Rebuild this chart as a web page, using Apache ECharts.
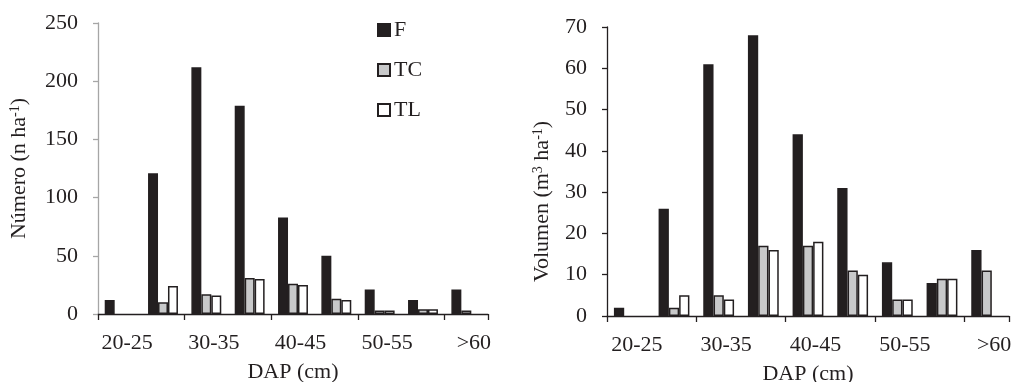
<!DOCTYPE html>
<html>
<head>
<meta charset="utf-8">
<script src="https://cdn.jsdelivr.net/npm/echarts@6/dist/echarts.min.js"></script>
<style>
  html, body { margin: 0; padding: 0; background: #fff; }
  #chart { width: 1012px; height: 382px; }
</style>
</head>
<body>
<div id="chart"></div>
<script>
const categories = ['20-25', '25-30', '30-35', '35-40', '40-45', '45-50', '50-55', '55-60', '>60'];

// Número (n ha-1)
const numF  = [12, 121, 212, 179, 83, 50, 21, 12, 21];
const numTC = [0, 10, 17, 31, 26, 13, 3, 4, 3];
const numTL = [0, 24, 16, 30, 25, 12, 3, 4, 0];

// Volumen (m3 ha-1)
const volF  = [2, 26, 61, 68, 44, 31, 13, 8, 16];
const volTC = [0, 2, 5, 17, 17, 11, 4, 9, 11];
const volTL = [0, 5, 4, 16, 18, 10, 4, 9, 0];

const font = 'Liberation Serif';
const dark = '#231f20';

let myChart = echarts.init(document.getElementById('chart'));

function xAxis(gridIndex) {
  return {
    type: 'category',
    gridIndex: gridIndex,
    data: categories,
    name: 'DAP (cm)',
    nameLocation: 'middle',
    nameGap: 47,
    nameTextStyle: { fontFamily: font, fontSize: 22, color: '#231f20' },
    axisLine: { lineStyle: { color: dark, width: 1.3 } },
    axisTick: { show: true, length: 6, lineStyle: { color: dark, width: 1.3 } },
    axisLabel: {
      interval: 1,
      margin: 18,
      fontFamily: font,
      fontSize: 22,
      color: '#231f20',
      padding: [0, 0, 0, 15]
    },
    splitLine: { show: false }
  };
}

function yAxis(gridIndex, max, interval, name, gap, axisColor, namePad) {
  return {
    type: 'value',
    gridIndex: gridIndex,
    min: 0,
    max: max,
    interval: interval,
    name: name,
    nameLocation: 'middle',
    nameGap: gap,
    nameRotate: 90,
    nameTextStyle: {
      fontFamily: font,
      fontSize: 22,
      color: '#231f20',
      padding: namePad,
      rich: {
        sup: { fontFamily: font, fontSize: 14, color: '#231f20', verticalAlign: 'top', padding: [0, 0, 8, 0] }
      }
    },
    axisLine: { show: true, lineStyle: { color: axisColor, width: 1.3 } },
    axisTick: { show: true, length: 5, lineStyle: { color: axisColor, width: 1.3 } },
    axisLabel: { margin: 20, fontFamily: font, fontSize: 22, color: '#231f20' },
    splitLine: { show: false }
  };
}

function bars(name, data, color, idx) {
  return {
    name: name,
    type: 'bar',
    xAxisIndex: idx,
    yAxisIndex: idx,
    // empty classes are not drawn at all in the original
    data: data.map(v => (v === 0 ? '-' : v)),
    barGap: '0%',
    barCategoryGap: '31%',
    animation: false,
    itemStyle: { color: color, borderColor: dark, borderWidth: 1.5 }
  };
}

const option = {
  backgroundColor: '#fff',
  textStyle: { fontFamily: font },
  legend: {
    data: ['F', 'TC', 'TL'],
    orient: 'vertical',
    left: 372,
    top: 14,
    itemWidth: 12,
    itemHeight: 12,
    itemGap: 18,
    icon: 'rect',
    textStyle: { fontFamily: font, fontSize: 22, color: '#231f20', padding: [0, 0, 0, -1] }
  },
  grid: [
    { left: 98, top: 23, width: 390, height: 291, outerBoundsMode: 'none' },
    { left: 607, top: 27, width: 402, height: 289, outerBoundsMode: 'none' }
  ],
  xAxis: [xAxis(0), xAxis(1)],
  yAxis: [
    yAxis(0, 250, 50, 'Número (n ha{sup|-1})', 68, '#a6a6a6', 0),
    yAxis(1, 70, 10, 'Volumen (m{sup|3} ha{sup|-1})', 54, dark, [0, 60, 0, 0])
  ],
  series: [
    bars('F', numF, dark, 0),
    bars('TC', numTC, '#c8c9ca', 0),
    bars('TL', numTL, '#ffffff', 0),
    bars('F', volF, dark, 1),
    bars('TC', volTC, '#c8c9ca', 1),
    bars('TL', volTL, '#ffffff', 1)
  ]
};

myChart.setOption(option);
</script>
</body>
</html>
